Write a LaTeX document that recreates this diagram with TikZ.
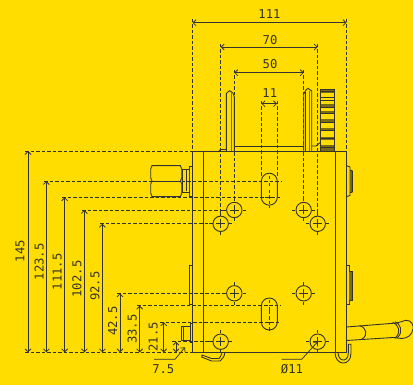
\documentclass[tikz,border=0pt]{standalone}
\usepackage{fontspec}
\usepackage{tikz}
\usetikzlibrary{arrows.meta}
\newfontfamily\dimfont{DejaVu Sans Mono}
\definecolor{paper}{HTML}{FFDD00}
\definecolor{ink}{HTML}{35332E}
\definecolor{band}{HTML}{7A6C12}
\tikzset{
	part/.style={draw=ink,line width=0.9pt},
	leader/.style={draw=ink,line width=0.75pt,dash pattern=on 3.5pt off 2pt},
	measure/.style={draw=ink,line width=0.75pt,{Straight Barb[length=3pt,width=6pt]}-{Straight Barb[length=3pt,width=6pt]}},
	pointer/.style={draw=ink,line width=0.75pt,-{Straight Barb[length=3pt,width=6pt]}},
	hole/.style={shape=circle,draw=ink,line width=0.9pt,minimum size=15.4pt,inner sep=0pt},
	slot/.style={shape=rectangle,draw=ink,line width=0.9pt,minimum width=16pt,rounded corners=8pt,inner sep=0pt},
	crossmark/.style={draw=ink,line width=0.75pt,dash pattern=on 3pt off 4pt on 9pt off 4pt on 3pt},
	dim/.style={text=ink,font=\fontsize{12.2}{14}\selectfont\dimfont,inner sep=0pt},
	dimup/.style={dim,rotate=90}
}
\begin{document}
\begin{tikzpicture}[x=1pt,y=-1pt]
	
	\useasboundingbox (0,0) rectangle (413,385);
	\fill[paper] (0,0) rectangle (413,385);
	
	% housing
	\draw[part] (192.5,151) rectangle (346.5,352.3);
	\draw[part] (203.3,151) -- (203.3,352.3);
	\draw[part] (335,151) -- (335,352.3);
	
	% holes and slots
	\node[hole] (ua) at (220.7,223.8) {};
	\node[hole] (ub) at (234.3,210) {};
	\node[hole] (uc) at (303.7,210) {};
	\node[hole] (ud) at (317.7,223.8) {};
	\node[hole] (la) at (220.7,341.7) {};
	\node[hole] (lb) at (234.3,293.3) {};
	\node[hole] (lc) at (303.7,293.3) {};
	\node[hole] (ld) at (317.7,341.7) {};
	\node[slot,minimum height=32pt] (us) at (269.3,189.2) {};
	\node[slot,minimum height=32pt] (ls) at (269.3,314) {};
	\draw[crossmark] (ua.center) +(-11.5,0) -- +(11.5,0) (ua.center) +(0,-11.5) -- +(0,11.5);
	\draw[crossmark] (ub.center) +(-11.5,0) -- +(11.5,0) (ub.center) +(0,-11.5) -- +(0,11.5);
	\draw[crossmark] (uc.center) +(-11.5,0) -- +(11.5,0) (uc.center) +(0,-11.5) -- +(0,11.5);
	\draw[crossmark] (ud.center) +(-11.5,0) -- +(11.5,0) (ud.center) +(0,-11.5) -- +(0,11.5);
	\draw[crossmark] (la.center) +(-11.5,0) -- +(11.5,0) (la.center) +(0,-11.5) -- +(0,11.5);
	\draw[crossmark] (lb.center) +(-11.5,0) -- +(11.5,0) (lb.center) +(0,-11.5) -- +(0,11.5);
	\draw[crossmark] (lc.center) +(-11.5,0) -- +(11.5,0) (lc.center) +(0,-11.5) -- +(0,11.5);
	\draw[crossmark] (ld.center) +(-11.5,0) -- +(11.5,0) (ld.center) +(0,-11.5) -- +(0,11.5);
	\draw[crossmark] (269.3,170) +(-4,11) -- +(4,11) (269.3,170) +(0,6) -- +(0,16);
	\draw[leader] (269.3,190) -- (269.3,208);
	\draw[crossmark] (269.3,295) +(-4,10.7) -- +(4,10.7) (269.3,295) +(0,5) -- +(0,16);
	\draw[leader] (269.3,311) -- (269.3,333);
	\draw[part] (265.3,197.3) -- (273.3,197.3);
	\draw[part] (265.3,322.3) -- (273.3,322.3);
	
	% prongs on top
	\draw[part] (226.3,151) -- (226.3,93.5) -- (229.5,90.7) -- (233,93) -- (234.3,97) -- (234.3,151);
	\draw[part,draw=band,line width=1.2pt] (231.5,93) -- (231.5,151);
	\draw[part] (303.7,151) -- (303.7,94) -- (306,90) -- (308,88.3) -- (311.7,91) -- (311.7,151);
	\draw[part,line width=1.2pt] (305.7,92) -- (305.7,151);
	\draw[part,draw=band,line width=1.1pt] (309.5,91) -- (309.5,151);
	\draw[part] (234.3,146) -- (303.7,146);
	\draw[part] (219,151) -- (220.5,149.5) -- (226.3,149.5);
	\draw[part] (311.7,146) -- (316,146) -- (320,142.7);
	
	% knob
	\fill[band] (320,89.3) rectangle (334,92.7);
	\fill[band] (320,104) rectangle (334,107);
	\fill[band] (320,111.5) rectangle (334,114);
	\fill[band] (320,119.5) rectangle (334,122.5);
	\fill[band] (320,128) rectangle (334,131.5);
	\fill[band] (320,137) rectangle (334,140);
	\fill[band] (320,145) rectangle (334,151);
	\draw[part] (320,151) -- (320,89.3) -- (334,89.3) -- (334,151);
	\draw[part] (320,91.5) -- (334,91.5);
	\draw[part] (320,97.3) -- (334,97.3);
	\draw[part] (320,100.7) -- (334,100.7);
	\draw[part] (320,107) -- (334,107);
	\draw[part] (320,113) -- (334,113);
	\draw[part] (320,122) -- (334,122);
	\draw[part] (320,130) -- (334,130);
	\draw[part] (320,138) -- (334,138);
	\draw[part] (320,147) -- (334,147);
	
	% fitting on the left
	\draw[part] (152,165.7) -- (180.5,165.7) -- (181.7,169) -- (181.7,178) -- (180.5,181) -- (181.7,184) -- (181.7,193) -- (180.5,196.7) -- (152,196.7) -- (150.7,193) -- (150.7,184) -- (152,181) -- (150.7,178) -- (150.7,169) -- cycle;
	\draw[part] (152,181) -- (180.5,181);
	\draw[part] (182,169.3) rectangle (189.3,192.7);
	\draw[part] (186,170.5) -- (186,191.5);
	\draw[part] (189.3,166) rectangle (192.5,196.7);
	\draw[part] (189.3,265) rectangle (192.5,304.3);
	\draw[part] (181.3,326.7) rectangle (190,340.7);
	\draw[part] (183.5,326.7) -- (183.5,340.7);
	\draw[part] (190,323) -- (192.5,323) (190,323) -- (190,342.7) -- (192.5,342.7);
	
	% plates on the right
	\draw[part] (346.5,165.7) -- (350,167) -- (350,195.5) -- (346.5,196.7);
	\fill[band] (350,170) rectangle (352.3,192.7);
	\draw[part] (350,170) -- (352.3,171) -- (352.3,192) -- (350,192.7);
	\draw[part] (346.5,265) -- (349.3,265) -- (349.3,304) -- (346.5,304);
	\fill[band] (349.3,271) rectangle (352.3,300);
	\draw[part] (349.3,271) -- (352.3,271) -- (352.3,300) -- (349.3,300);
	
	% handle
	\draw[part] (346.5,327) -- (396.7,323) -- (406,320.3) .. controls (411,320) and (414,325) .. (413,329) .. controls (412,335) and (408,338) .. (402,338.5) -- (393,337.5) -- (346.5,340.5);
	\draw[part] (359.3,325.7) .. controls (366,327) and (369,335) .. (361.7,339.3);
	\draw[part] (395,321.7) .. controls (400,323) and (404,332) .. (397.3,337.7);
	\draw[part] (392.7,322.3) .. controls (398,324) and (402,332) .. (395,338.3);
	
	% hooks
	\draw[part] (335,352.3) .. controls (335,366) and (351,367) .. (351,353) -- (351,344.3) -- (348.3,344.3) -- (348.3,353) .. controls (348.3,363) and (338,362) .. (338,352.3);
	\draw[part] (202,355) -- (201.7,357) -- (211.5,361) -- (220,361) .. controls (223,359) and (224.5,356) .. (224.8,352.3);
	\draw[part] (202,355) -- (211.5,358.5) -- (219,358.5) .. controls (220.5,357) and (221.5,355) .. (222,352.3);
	
	% leaders
	\coordinate (topa) at (192.5,19);
	\coordinate (topb) at (346.5,19);
	\coordinate (topc) at (220.7,44);
	\coordinate (topd) at (317.7,44);
	\coordinate (tope) at (234.3,70);
	\coordinate (topf) at (303.7,70);
	\coordinate (topg) at (261.6,101);
	\coordinate (toph) at (277,101);
	\draw[leader] (topa) -- (192.5,151);
	\draw[leader] (topb) -- (346.5,151);
	\draw[leader] (topc) -- (ua.north);
	\draw[leader] (topd) -- (ud.north);
	\draw[leader] (tope) -- (ub.north);
	\draw[leader] (topf) -- (uc.north);
	\draw[leader] (topg) -- (261.6,176);
	\draw[leader] (toph) -- (277,176);
	\coordinate (sidea) at (25,151);
	\coordinate (sideb) at (44,181);
	\coordinate (sidec) at (62,197.3);
	\coordinate (sided) at (82,210);
	\coordinate (sidee) at (100,223.8);
	\coordinate (sidef) at (117,293.3);
	\coordinate (sideg) at (137,305.7);
	\coordinate (sideh) at (160,322.3);
	\coordinate (sidei) at (172,341.7);
	\coordinate (base) at (25,352.3);
	\draw[leader] (sidea) -- (192.5,151);
	\draw[leader] (sideb) -- (281,181);
	\draw[leader] (sidec) -- (281,197.3);
	\draw[leader] (sided) -- (ub.west);
	\draw[leader] (sidee) -- (ua.west);
	\draw[leader] (sidef) -- (lb.west);
	\draw[leader] (sideg) -- (281,305.7);
	\draw[leader] (sideh) -- (281,322.3);
	\draw[leader] (sidei) -- (la.west);
	\draw[leader] (base) -- (192.5,352.3);
	
	% top dimensions
	\draw[measure] (topa |- 0,22.7) -- (topb |- 0,22.7);
	\draw[measure] (topc |- 0,47) -- (topd |- 0,47);
	\draw[measure] (tope |- 0,72.7) -- (topf |- 0,72.7);
	\draw[measure] (topg |- 0,103.7) -- (toph |- 0,103.7);
	\node[dim] (wa) at (269.5,14) {111};
	\node[dim] (wb) at (270,40) {70};
	\node[dim] (wc) at (270,64) {50};
	\node[dim] (wd) at (269.8,93) {11};
	
	% side dimensions
	\draw[measure] (28,151) -- (28,352.3);
	\draw[measure] (46.3,181) -- (46.3,352.3);
	\draw[measure] (64.7,197.3) -- (64.7,352.3);
	\draw[measure] (84.3,210) -- (84.3,352.3);
	\draw[measure] (102.3,223.8) -- (102.3,352.3);
	\draw[measure] (120,293.3) -- (120,352.3);
	\draw[measure] (139.7,305.7) -- (139.7,352.3);
	\draw[measure] (163.7,322.3) -- (163.7,352.3);
	\draw[measure] (176,341.7) -- (176,352.3);
	\node[dimup] (ha) at (20,251) {145};
	\node[dimup] (hb) at (39.3,261.7) {123.5};
	\node[dimup] (hc) at (57.3,271.7) {111.5};
	\node[dimup] (hd) at (77,279) {102.5};
	\node[dimup] (he) at (95,286) {92.5};
	\node[dimup] (hf) at (112.7,321) {42.5};
	\node[dimup] (hg) at (132.3,329) {33.5};
	\node[dimup] (hh) at (153.3,336.7) {21.5};
	
	% pointers
	\node[dim] (gap) at (163.3,369) {7.5};
	\node[dim] (bore) at (292,369) {Ø11};
	\draw[pointer] (154,359.3) -- (175,359.3) -- (185,347.3);
	\draw[pointer] (281.7,359.3) -- (301.7,359.3) -- (ld.center);
	
\end{tikzpicture}
\end{document}
